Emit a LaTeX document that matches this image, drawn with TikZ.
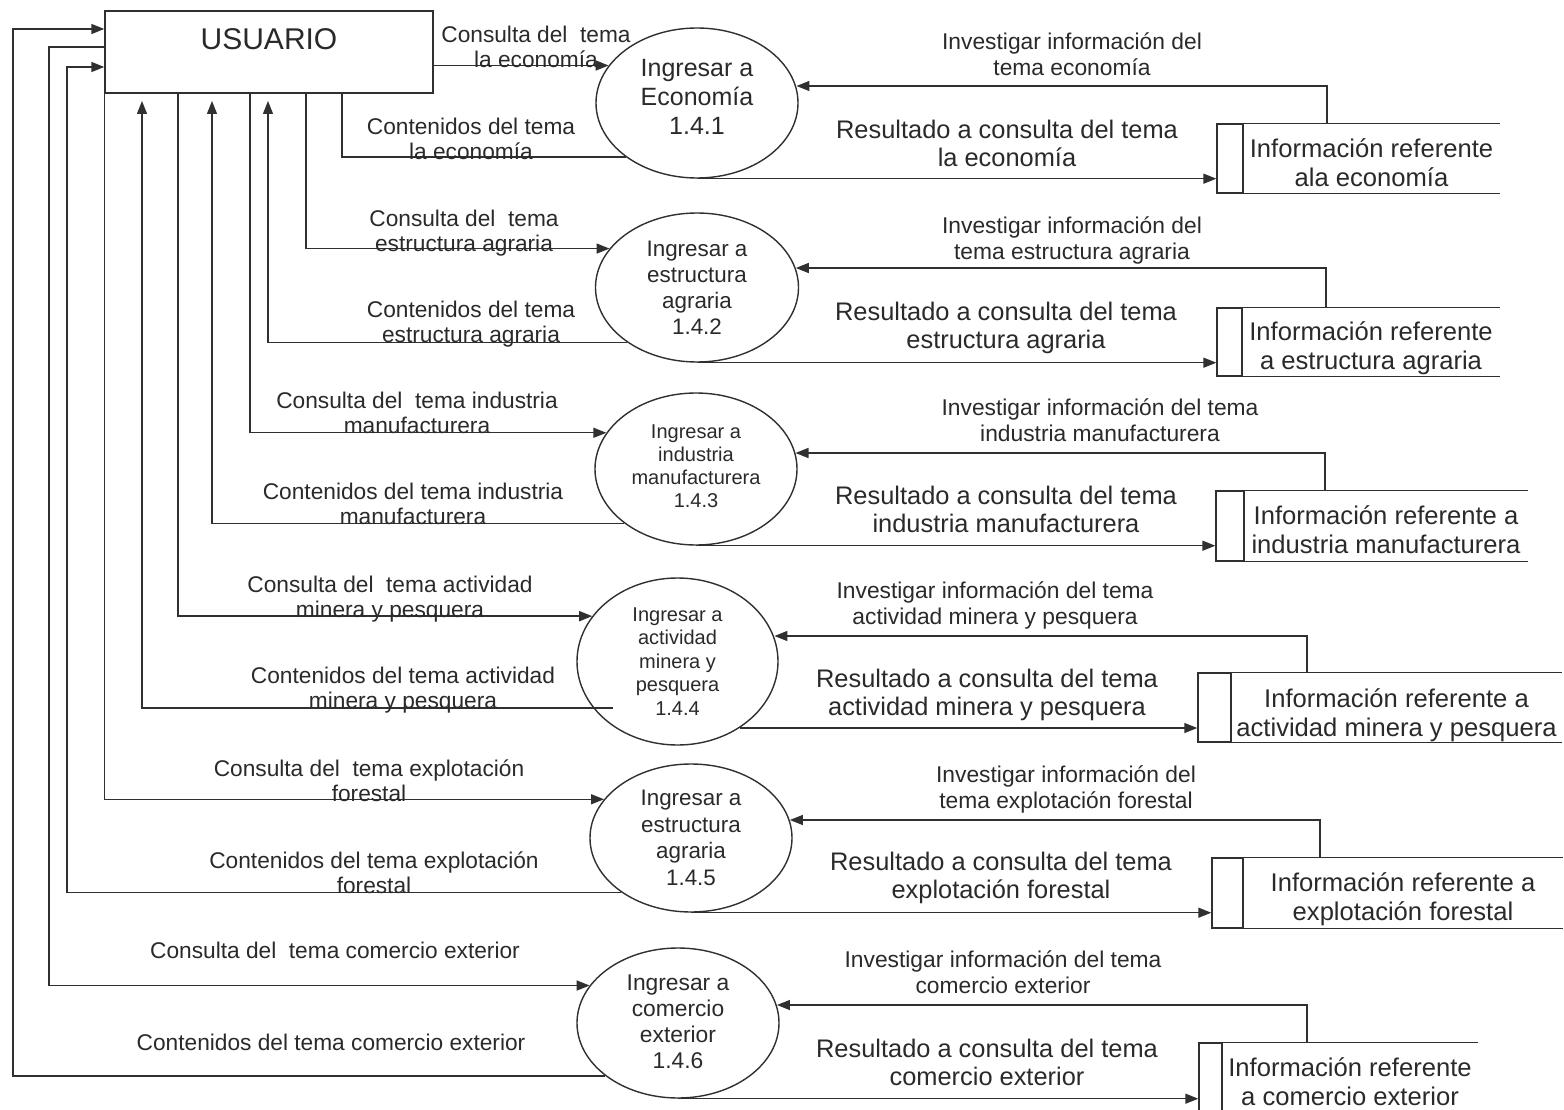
\documentclass[tikz,border=0pt]{standalone}
\usepackage{fontspec}
\setmainfont{Liberation Sans}
\usetikzlibrary{shapes.geometric,arrows.meta,calc}
\definecolor{ink}{HTML}{2A2A2A}
\definecolor{wirecol}{HTML}{303030}
\begin{document}
\begin{tikzpicture}[x=1pt,y=-1pt,
  conn/.style={draw=wirecol,line width=1.4pt},
  flow/.style={conn,-{Triangle[length=13pt,width=10pt]}},
  pad/.style 2 args={execute at begin node={\rule{0pt}{#1pt}},
                     execute at end node={\rule[-#2pt]{0pt}{#2pt}}},
  proc/.style={ellipse,draw=wirecol,line width=1.4pt,align=center,
               inner xsep=0pt,inner ysep=-8pt,text=ink},
  cell/.style={draw=wirecol,line width=1.4pt,inner sep=0pt},
  store/.style={inner sep=0pt,align=center,text=ink,pad={27}{6},
                font=\fontsize{25.6}{29}\selectfont},
  lbl/.style={inner sep=0pt,align=center,anchor=south,text=ink,
              font=\fontsize{22.7}{25.5}\selectfont,
              execute at end node={\rule[-6pt]{0pt}{6pt}}},
  ask/.style={lbl,font=\fontsize{22.8}{26}\selectfont},
  res/.style={lbl,font=\fontsize{25.4}{28.5}\selectfont}
]
\fill[white] (0,0) rectangle (1564,1110);
\useasboundingbox (0,0) rectangle (1564,1110);

% external entity
\node[draw=wirecol,line width=1.4pt,minimum width=328,minimum height=82,inner sep=0pt,
      text=ink,font=\fontsize{30}{34}\selectfont,text height=12pt,text depth=16pt]
      (u) at (269,52) {USUARIO};

% processes
\node[proc,minimum width=202,minimum height=150,font=\fontsize{25}{29}\selectfont,pad={23}{13}]
  (p1) at (697,103) {Ingresar a\\Economía\\1.4.1};
\node[proc,minimum width=203,minimum height=149,font=\fontsize{22.4}{26}\selectfont,pad={25}{0}]
  (p2) at (697,287.5) {Ingresar a\\estructura\\agraria\\1.4.2};
\node[proc,minimum width=202,minimum height=152,font=\fontsize{20}{23}\selectfont,pad={20}{5}]
  (p3) at (696,469) {Ingresar a\\industria\\manufacturera\\1.4.3};
\node[proc,minimum width=201,minimum height=167,font=\fontsize{20}{23.5}\selectfont,pad={33}{0}]
  (p4) at (677.5,661.5) {Ingresar a\\actividad\\minera y\\pesquera\\1.4.4};
\node[proc,minimum width=202,minimum height=148,font=\fontsize{22.4}{26.5}\selectfont,pad={27}{0}]
  (p5) at (691,838) {Ingresar a\\estructura\\agraria\\1.4.5};
\node[proc,minimum width=202,minimum height=150,font=\fontsize{22.8}{26}\selectfont,pad={30}{2}]
  (p6) at (678,1023) {Ingresar a\\comercio\\exterior\\1.4.6};

% data stores: closed left cell, open text area to its right
\node[cell,minimum width=26,minimum height=69] (s1l) at (1230,158.5) {};
\node[store,minimum width=257] (s1) at (1371.5,165.5)
  {Información referente\\ala economía};
\node[cell,minimum width=25,minimum height=68] (s2l) at (1229.5,342) {};
\node[store,minimum width=258] (s2) at (1371,349)
  {Información referente\\a estructura agraria};
\node[cell,minimum width=28,minimum height=70] (s3l) at (1230,526) {};
\node[store,minimum width=284] (s3) at (1386,533)
  {Información referente a\\industria manufacturera};
\node[cell,minimum width=33,minimum height=69] (s4l) at (1214.5,707.5) {};
\node[store,minimum width=331] (s4) at (1396.5,716)
  {Información referente a\\actividad minera y pesquera};
\node[cell,minimum width=31,minimum height=70] (s5l) at (1227.5,893) {};
\node[store,minimum width=320] (s5) at (1403,900)
  {Información referente a\\explotación forestal};
\node[cell,minimum width=23,minimum height=70] (s6l) at (1210.5,1078) {};
\node[store,minimum width=256] (s6) at (1350,1085)
  {Información referente\\a comercio exterior};
\foreach \s in {s1,s2,s3,s4,s5,s6}
  \draw[conn] (\s l.north east) -- (\s l.north east -| \s.east)
              (\s l.south east) -- (\s l.south east -| \s.east);

% bend points
\coordinate (r1) at (342,93);
\coordinate (q2) at (306,93);
\coordinate (r2) at (268,101);
\coordinate (q3) at (250,93);
\coordinate (r3) at (212,101);
\coordinate (q4) at (178,93);
\coordinate (r4) at (142,101);
\coordinate (c4) at (613,708);
\coordinate (r5) at (67,67);
\coordinate (q6) at (49,47);
\coordinate (r6) at (13,29);
\coordinate (i1) at (1327,86);
\coordinate (i2) at (1326,268);
\coordinate (i3) at (1325,453);
\coordinate (i4) at (1307,636);
\coordinate (i5) at (1320,820);
\coordinate (i6) at (1307,1005);

% user <-> processes
\draw[flow] (u.east |- p1.157.9) -- (p1.157.9);
\draw[conn] (p1.217.6) -- (p1.217.6 -| r1) -- (r1);
\draw[flow] (q2) -- (q2 |- p2.156.8) -- (p2.156.8);
\draw[flow] (p2.218.2) -- (p2.218.2 -| r2) -- (r2);
\draw[flow] (q3) -- (q3 |- p3.158) -- (p3.158);
\draw[flow] (p3.217.2) -- (p3.217.2 -| r3) -- (r3);
\draw[flow] (q4) -- (q4 |- p4.152.4) -- (p4.152.4);
\draw[flow] (c4) -- (c4 -| r4) -- (r4);
\draw[flow] (u.south west) -- (u.south west |- p5.156.3) -- (p5.156.3);
\draw[flow] (p5.218) -- (p5.218 -| r5) -- (r5) -- (r5 -| u.west);
\draw[flow] (q6 -| u.west) -- (q6) -- (q6 |- p6.157.2) -- (p6.157.2);
\draw[flow] (p6.216.5) -- (p6.216.5 -| r6) -- (r6) -- (r6 -| u.west);

% stores -> processes
\draw[flow] (s1l.north -| i1) -- (i1) -- (i1 -| p1.9.8);
\draw[flow] (s2l.north -| i2) -- (i2) -- (i2 -| p2.11.3);
\draw[flow] (s3l.north -| i3) -- (i3) -- (i3 -| p3.9.2);
\draw[flow] (s4l.north -| i4) -- (i4) -- (i4 -| p4.14.9);
\draw[flow] (s5l.north -| i5) -- (i5) -- (i5 -| p5.10.4);
\draw[flow] (s6l.north -| i6) -- (i6) -- (i6 -| p6.10.4);

% processes -> stores
\draw[flow] (p1.south) -- (p1.south -| s1l.west);
\draw[flow] (p2.south) -- (p2.south -| s2l.west);
\draw[flow] (p3.south) -- (p3.south -| s3l.west);
\draw[flow] (p4.313.6) -- (p4.313.6 -| s4l.west);
\draw[flow] (p5.south) -- (p5.south -| s5l.west);
\draw[flow] (p6.south) -- (p6.south -| s6l.west);

% flow labels, left side
\node[lbl] (t1a) at (536,74) {Consulta del~ tema\\la economía};
\node[lbl] (t1b) at (471,166) {Contenidos del tema\\la economía};
\node[lbl] (t2a) at (464,258) {Consulta del~ tema\\estructura agraria};
\node[lbl] (t2b) at (471,349) {Contenidos del tema\\estructura agraria};
\node[lbl] (t3a) at (417,440) {Consulta del~ tema industria\\manufacturera};
\node[lbl] (t3b) at (413,531) {Contenidos del tema industria\\manufacturera};
\node[lbl] (t4a) at (390,624) {Consulta del~ tema actividad\\minera y pesquera};
\node[lbl] (t4b) at (403,715) {Contenidos del tema actividad\\minera y pesquera};
\node[lbl] (t5a) at (369,808) {Consulta del~ tema explotación\\forestal};
\node[lbl] (t5b) at (374,900) {Contenidos del tema explotación\\forestal};
\node[lbl] (t6a) at (335,965) {Consulta del~ tema comercio exterior};
\node[lbl] (t6b) at (331,1057) {Contenidos del tema comercio exterior};

% flow labels, right side
\node[ask] (a1) at (1072,82) {Investigar información del\\tema economía};
\node[ask] (a2) at (1072,266) {Investigar información del\\tema estructura agraria};
\node[ask] (a3) at (1100,448) {Investigar información del tema\\industria manufacturera};
\node[ask] (a4) at (995,631) {Investigar información del tema\\actividad minera y pesquera};
\node[ask] (a5) at (1066,815) {Investigar información del\\tema explotación forestal};
\node[ask] (a6) at (1003,1000) {Investigar información del tema\\comercio exterior};

\node[res] (g1) at (1007,173) {Resultado a consulta del tema\\la economía};
\node[res] (g2) at (1006,355) {Resultado a consulta del tema\\estructura agraria};
\node[res] (g3) at (1006,539) {Resultado a consulta del tema\\industria manufacturera};
\node[res] (g4) at (987,722) {Resultado a consulta del tema\\actividad minera y pesquera};
\node[res] (g5) at (1001,905) {Resultado a consulta del tema\\explotación forestal};
\node[res] (g6) at (987,1092) {Resultado a consulta del tema\\comercio exterior};
\end{tikzpicture}
\end{document}
